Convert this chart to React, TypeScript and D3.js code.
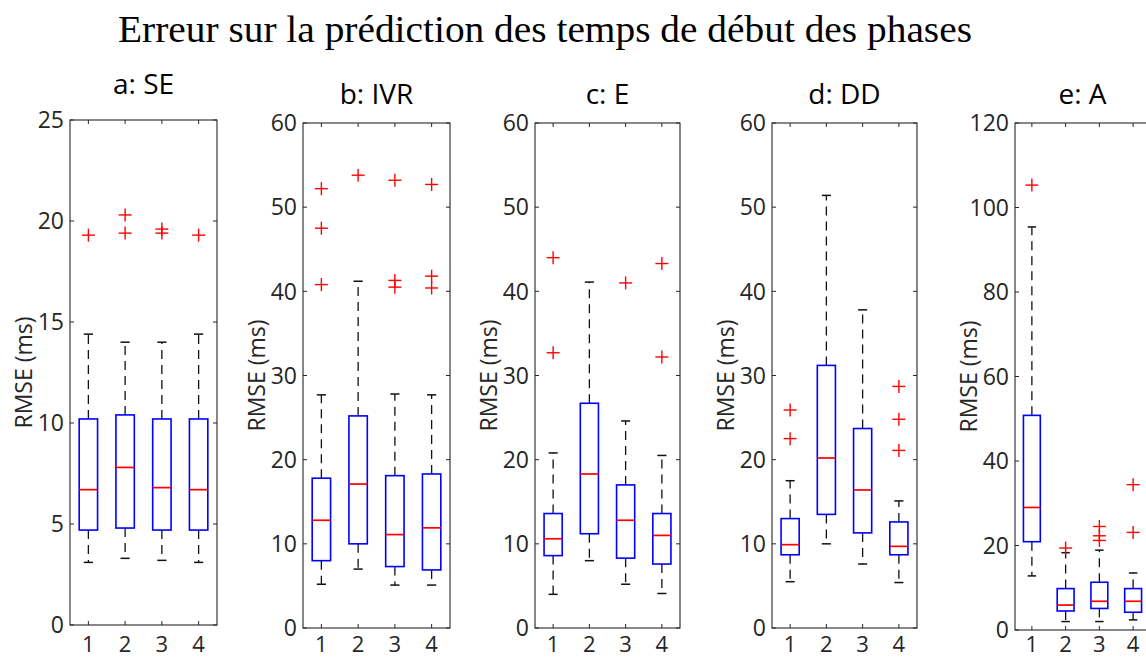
import React from "react";
import * as d3 from "d3";

// ---------- data ----------
const mainTitle = "Erreur sur la prédiction des temps de début des phases";
const categories = [1, 2, 3, 4];
const panelTitles = ["a: SE", "b: IVR", "c: E", "d: DD", "e: A"];
const yLabel = "RMSE (ms)";
const yMaxes = [25, 60, 60, 60, 120];
const yTicksSE = [0, 5, 10, 15, 20, 25];
const yTicksIVR = [0, 10, 20, 30, 40, 50, 60];
const yTicksE = [0, 10, 20, 30, 40, 50, 60];
const yTicksDD = [0, 10, 20, 30, 40, 50, 60];
const yTicksA = [0, 20, 40, 60, 80, 100, 120];

// [lower whisker, Q1, median, Q3, upper whisker] per category
const statsSE = [
  [3.1, 4.7, 6.7, 10.2, 14.4],
  [3.3, 4.8, 7.8, 10.4, 14.0],
  [3.2, 4.7, 6.8, 10.2, 14.0],
  [3.1, 4.7, 6.7, 10.2, 14.4],
];
const outliersSE = [[19.3], [19.4, 20.3], [19.4, 19.6], [19.3]];

const statsIVR = [
  [5.2, 8.0, 12.8, 17.8, 27.7],
  [7.0, 10.0, 17.1, 25.2, 41.2],
  [5.1, 7.3, 11.1, 18.1, 27.8],
  [5.1, 6.9, 11.9, 18.3, 27.7],
];
const outliersIVR = [[40.8, 47.5, 52.2], [53.8], [40.5, 41.3, 53.2], [40.4, 41.8, 52.7]];

const statsE = [
  [4.0, 8.6, 10.6, 13.6, 20.8],
  [8.0, 11.2, 18.3, 26.7, 41.1],
  [5.2, 8.3, 12.8, 17.0, 24.6],
  [4.1, 7.6, 11.0, 13.6, 20.5],
];
const outliersE = [[32.7, 44.0], [], [41.0], [32.2, 43.3]];

const statsDD = [
  [5.5, 8.7, 9.9, 13.0, 17.5],
  [10.0, 13.5, 20.2, 31.2, 51.4],
  [7.6, 11.3, 16.4, 23.7, 37.8],
  [5.4, 8.7, 9.7, 12.6, 15.1],
];
const outliersDD = [[22.5, 25.9], [], [], [21.1, 24.8, 28.7]];

const statsA = [
  [12.8, 20.9, 29.0, 50.8, 95.4],
  [2.0, 4.5, 5.9, 9.8, 18.3],
  [2.0, 5.1, 6.8, 11.3, 18.9],
  [2.4, 4.2, 6.8, 9.8, 13.5],
];
const outliersA = [[105.3], [19.4], [21.2, 22.3, 24.5], [23.1, 34.4]];

const allStats = [statsSE, statsIVR, statsE, statsDD, statsA];
const allOutliers = [outliersSE, outliersIVR, outliersE, outliersDD, outliersA];
const allTicks = [yTicksSE, yTicksIVR, yTicksE, yTicksDD, yTicksA];

// ---------- layout ----------
const W = 1146;
const H = 660;
const frames = [
  { left: 70, right: 217, top: 120, bottom: 625, titleY: 94 },
  { left: 303, right: 450, top: 123, bottom: 628, titleY: 104 },
  { left: 535, right: 680, top: 123, bottom: 628, titleY: 104 },
  { left: 772, right: 917, top: 123, bottom: 628, titleY: 104 },
  { left: 1015, right: 1150, top: 123, bottom: 630, titleY: 104 },
];

const SANS = "'Open Sans', 'Noto Sans', sans-serif";
const AXIS = "#262626";

function Panel({ idx }: { idx: number }) {
  const f = frames[idx];
  const x = d3.scaleLinear().domain([0.5, 4.5]).range([f.left, f.right]);
  const y = d3.scaleLinear().domain([0, yMaxes[idx]]).range([f.bottom, f.top]);
  const stats = allStats[idx];
  const outs = allOutliers[idx];
  const ticks = allTicks[idx];
  const tl = 4;
  const cx = (f.left + f.right) / 2;
  const cy = (f.top + f.bottom) / 2;
  const plus = 6.5;

  return (
    <g>
      <rect x={f.left} y={f.top} width={f.right - f.left} height={f.bottom - f.top}
        fill="white" stroke={AXIS} strokeWidth={1.1} />
      {ticks.map((t) => (
        <g key={"yt" + t}>
          <line x1={f.left} x2={f.left + tl} y1={y(t)} y2={y(t)} stroke={AXIS} />
          <line x1={f.right} x2={f.right - tl} y1={y(t)} y2={y(t)} stroke={AXIS} />
          <text x={f.left - 6} y={y(t)} dy="0.36em" textAnchor="end"
            fontFamily={SANS} fontSize={23} fill={AXIS}>{t}</text>
        </g>
      ))}
      {categories.map((c) => (
        <g key={"xt" + c}>
          <line x1={x(c)} x2={x(c)} y1={f.bottom} y2={f.bottom - tl} stroke={AXIS} />
          <line x1={x(c)} x2={x(c)} y1={f.top} y2={f.top + tl} stroke={AXIS} />
          <text x={x(c)} y={652} textAnchor="middle"
            fontFamily={SANS} fontSize={22} fill={AXIS}>{c}</text>
        </g>
      ))}
      {categories.map((c, i) => {
        const [lw, q1, med, q3, uw] = stats[i];
        const bx0 = x(c - 0.25), bx1 = x(c + 0.25);
        const cx0 = x(c - 0.125), cx1 = x(c + 0.125);
        return (
          <g key={"b" + c}>
            <line x1={x(c)} x2={x(c)} y1={y(q3)} y2={y(uw)} stroke="#111" strokeWidth={1.3} strokeDasharray="9,6" />
            <line x1={x(c)} x2={x(c)} y1={y(q1)} y2={y(lw)} stroke="#111" strokeWidth={1.3} strokeDasharray="9,6" />
            <line x1={cx0} x2={cx1} y1={y(uw)} y2={y(uw)} stroke="#111" strokeWidth={1.5} />
            <line x1={cx0} x2={cx1} y1={y(lw)} y2={y(lw)} stroke="#111" strokeWidth={1.5} />
            <rect x={bx0} y={y(q3)} width={bx1 - bx0} height={y(q1) - y(q3)}
              fill="none" stroke="#0000ff" strokeWidth={1.6} />
            <line x1={bx0} x2={bx1} y1={y(med)} y2={y(med)} stroke="#ff0000" strokeWidth={1.7} />
            {outs[i].map((o, k) => (
              <g key={"o" + k} stroke="#ff0000" strokeWidth={1.4}>
                <line x1={x(c) - plus} x2={x(c) + plus} y1={y(o)} y2={y(o)} />
                <line x1={x(c)} x2={x(c)} y1={y(o) - plus} y2={y(o) + plus} />
              </g>
            ))}
          </g>
        );
      })}
      <text x={cx} y={f.titleY} textAnchor="middle" fontFamily={SANS} fontSize={28} fill="#000">
        {panelTitles[idx]}
      </text>
      <text transform={`translate(${f.left - 38},${cy}) rotate(-90)`} textAnchor="middle"
        fontFamily={SANS} fontSize={23} fill={AXIS}>{yLabel}</text>
    </g>
  );
}

export default function App() {
  return (
    <svg width={W} height={H} style={{ position: "fixed", left: 0, top: 0, background: "white" }}>
      <rect x={0} y={0} width={W} height={H} fill="white" />
      <text x={545} y={42} textAnchor="middle" fontFamily="'Liberation Serif', 'Times New Roman', serif"
        fontSize={38} fill="#000" textLength={854} lengthAdjust="spacingAndGlyphs">{mainTitle}</text>
      {panelTitles.map((_, i) => <Panel key={i} idx={i} />)}
    </svg>
  );
}
